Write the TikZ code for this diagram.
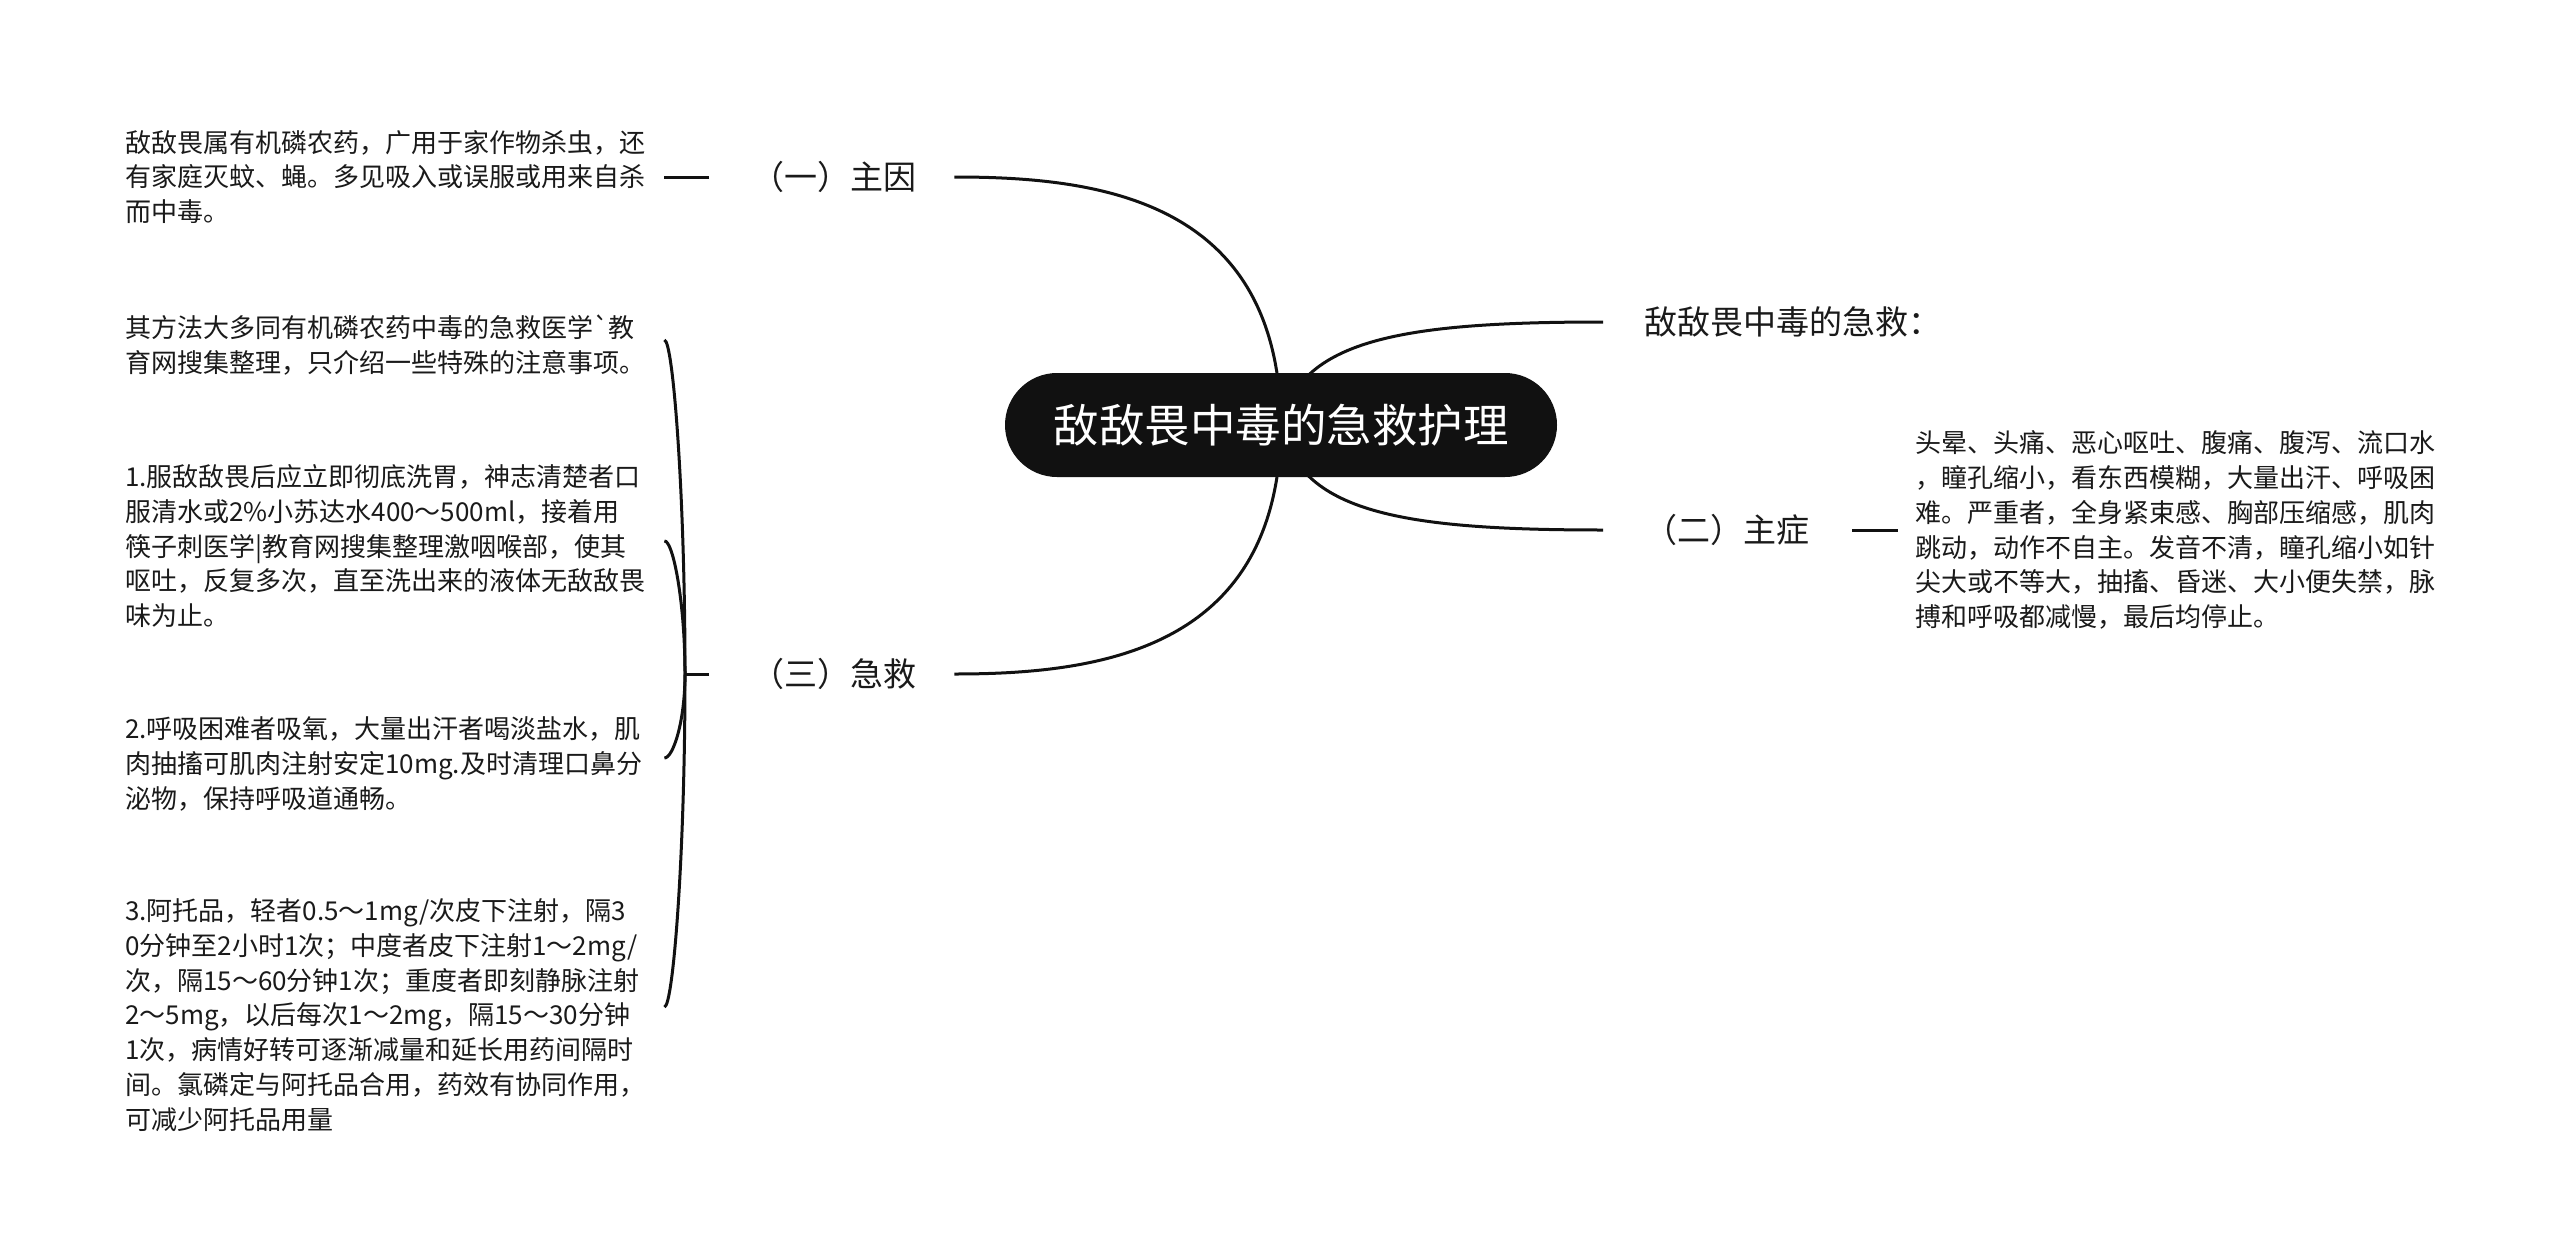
\documentclass[tikz,border=0pt]{standalone}
\usepackage{fontspec}
\newfontfamily\cjk{Noto Sans CJK SC}
\pgfdeclarelayer{bg}
\pgfsetlayers{bg,main}
\definecolor{ink}{HTML}{111111}
\definecolor{txt}{HTML}{1A1A1A}
\begin{document}
\begin{tikzpicture}[x=1pt,y=-1pt,
  leaf/.style={font=\cjk\fontsize{26}{34.8}\selectfont, text=txt, align=left, text width=522pt, inner sep=0pt, anchor=west},
  lab/.style={font=\cjk\fontsize{33}{38}\selectfont, text=txt, inner sep=0pt, anchor=west},
  rootbox/.style={fill=ink, text=white, rounded corners=52pt, minimum width=552pt, minimum height=104pt, font=\cjk\fontsize{45.5}{52}\selectfont, inner sep=0pt},
  conn/.style={draw=ink, line width=3pt}]
\begin{pgfonlayer}{bg}
\fill[white] (0,0) rectangle (2560,1250);
\end{pgfonlayer}
\useasboundingbox (0,0) rectangle (2560,1250);

% root
\node[rootbox] (root) at (1281,425) {敌敌畏中毒的急救护理};

% first level
\node[lab] (b1) at (751,177) {（一）主因};
\node[lab] (b3) at (751,674) {（三）急救};
\node[lab] (b4) at (1644,322) {敌敌畏中毒的急救：};
\node[lab] (b2) at (1644,530) {（二）主症};

% leaves
\node[leaf] (a) at (125,177) {敌敌畏属有机磷农药，广用于家作物杀虫，还\\有家庭灭蚊、蝇。多见吸入或误服或用来自杀\\而中毒。};
\node[leaf] (c0) at (125,345) {其方法大多同有机磷农药中毒的急救医学`教\\育网搜集整理，只介绍一些特殊的注意事项。};
\node[leaf] (c1) at (125,546) {1.服敌敌畏后应立即彻底洗胃，神志清楚者口\\服清水或2\%小苏达水400～500ml，接着用\\筷子刺医学|教育网搜集整理激咽喉部，使其\\呕吐，反复多次，直至洗出来的液体无敌敌畏\\味为止。};
\node[leaf] (c2) at (125,764) {2.呼吸困难者吸氧，大量出汗者喝淡盐水，肌\\肉抽搐可肌肉注射安定10mg.及时清理口鼻分\\泌物，保持呼吸道通畅。};
\node[leaf] (c3) at (125,1015) {3.阿托品，轻者0.5～1mg/次皮下注射，隔3\\0分钟至2小时1次；中度者皮下注射1～2mg/\\次，隔15～60分钟1次；重度者即刻静脉注射\\2～5mg，以后每次1～2mg，隔15～30分钟\\1次，病情好转可逐渐减量和延长用药间隔时\\间。氯磷定与阿托品合用，药效有协同作用，\\可减少阿托品用量};
\node[leaf] (d) at (1915,530) {头晕、头痛、恶心呕吐、腹痛、腹泻、流口水\\，瞳孔缩小，看东西模糊，大量出汗、呼吸困\\难。严重者，全身紧束感、胸部压缩感，肌肉\\跳动，动作不自主。发音不清，瞳孔缩小如针\\尖大或不等大，抽搐、昏迷、大小便失禁，脉\\搏和呼吸都减慢，最后均停止。};

% junction of the bracket
\coordinate (jn) at (685,674);

\begin{pgfonlayer}{bg}
\draw[conn] (root.center) .. controls (1279,200) and (1100,177) .. ([xshift=38pt]b1.east);
\draw[conn] (root.center) .. controls (1279,650) and (1100,674) .. ([xshift=38pt]b3.east);
\draw[conn] (root.center) .. controls (1300,340) and (1400,322) .. ([xshift=-41pt]b4.west);
\draw[conn] (root.center) .. controls (1300,512) and (1400,530) .. ([xshift=-41pt]b2.west);
\end{pgfonlayer}

% leaf connectors
\draw[conn] ([xshift=-42pt]b1.west) -- ([xshift=17pt]a.east);
\draw[conn] ([xshift=43pt]b2.east) -- ([xshift=-17pt]d.west);
\draw[conn] ([xshift=-42pt]b3.west) -- (jn);
\draw[conn] (jn) .. controls (685,493) and (673,340) .. ([xshift=17pt,yshift=5pt]c0.east);
\draw[conn] (jn) .. controls (685,602) and (673,540) .. ([xshift=17pt,yshift=5pt]c1.east);
\draw[conn] (jn) .. controls (685,722) and (673,758) .. ([xshift=17pt,yshift=6pt]c2.east);
\draw[conn] (jn) .. controls (685,858) and (673,1007) .. ([xshift=17pt,yshift=8pt]c3.east);
\end{tikzpicture}
\end{document}
